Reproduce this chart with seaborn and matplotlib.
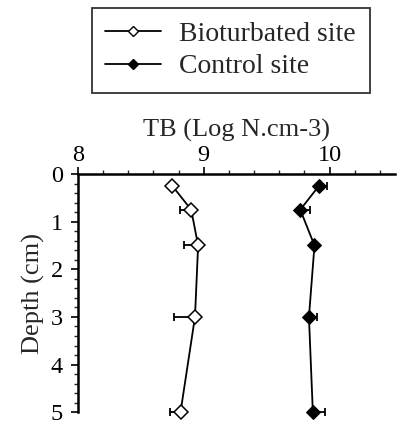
import matplotlib
matplotlib.use("Agg")
import matplotlib.pyplot as plt
import seaborn as sns
import pandas as pd
from matplotlib.ticker import MultipleLocator
from matplotlib.lines import Line2D

# Sediment depth (cm) and total bacteria (log N per cm3)
depth = [0.25, 0.75, 1.5, 3.0, 5.0]
bioturbated = [8.75, 8.90, 8.955, 8.93, 8.815]
bioturbated_err = [0.0, 0.09, 0.11, 0.17, 0.08]
control = [9.915, 9.767, 9.88, 9.836, 9.867]
control_err = [0.065, 0.08, 0.0, 0.065, 0.10]

series_names = ["Bioturbated site", "Control site"]

sns.set_style("ticks")
plt.rcParams["font.family"] = ["Liberation Serif", "DejaVu Serif"]

fig = plt.figure(figsize=(4.01, 4.25), dpi=100)
ax = fig.add_axes([0.1945, 0.03, 0.7905, 0.5606])

df = pd.concat([
    pd.DataFrame({"depth": depth, "tb": bioturbated, "site": series_names[0]}),
    pd.DataFrame({"depth": depth, "tb": control, "site": series_names[1]}),
])

sns.lineplot(data=df[df.site == series_names[0]], x="tb", y="depth", sort=False,
             color="black", lw=1.3, marker="D", markersize=7.5,
             markerfacecolor="white", markeredgecolor="black", markeredgewidth=1.1,
             ax=ax, legend=False, clip_on=False, zorder=3)
sns.lineplot(data=df[df.site == series_names[1]], x="tb", y="depth", sort=False,
             color="black", lw=1.3, marker="D", markersize=7.5,
             markerfacecolor="black", markeredgecolor="black",
             ax=ax, legend=False, clip_on=False, zorder=3)

# one-sided error bars: left for bioturbated, right for control
for vals, xerr in [
    (bioturbated, [bioturbated_err, [0] * len(depth)]),
    (control, [[0] * len(depth), control_err]),
]:
    eb = ax.errorbar(vals, depth, xerr=xerr, fmt="none", ecolor="black",
                     elinewidth=1.3, capsize=3, capthick=1.3, zorder=2)
    for art in eb.lines[1] + eb.lines[2]:
        art.set_clip_on(False)

ax.set_xlim(8, 10.52)
ax.set_ylim(5, 0)
ax.xaxis.set_major_locator(MultipleLocator(1))
ax.xaxis.set_minor_locator(MultipleLocator(0.2))
ax.yaxis.set_major_locator(MultipleLocator(1))
ax.yaxis.set_minor_locator(MultipleLocator(0.2))
ax.xaxis.tick_top()
ax.xaxis.set_label_position("top")
ax.tick_params(axis="both", which="major", direction="out", length=5, width=1.2,
               labelsize=17.5, colors="black")
ax.tick_params(axis="both", which="minor", direction="out", length=3, width=1.0)
ax.tick_params(axis="x", pad=1)
ax.tick_params(axis="y", pad=6)

for s in ["right", "bottom"]:
    ax.spines[s].set_visible(False)
for s in ["left", "top"]:
    ax.spines[s].set_linewidth(1.8)
    ax.spines[s].set_color("black")

ax.set_xlabel("TB (Log N.cm-3)", fontsize=19, labelpad=6)
ax.set_ylabel("Depth (cm)", fontsize=19, labelpad=4)

handles = [
    Line2D([], [], color="black", lw=1.3, marker="D", markersize=5,
           markerfacecolor="white", markeredgecolor="black"),
    Line2D([], [], color="black", lw=1.3, marker="D", markersize=5,
           markerfacecolor="black", markeredgecolor="black"),
]
leg = fig.legend(handles, series_names, loc="upper center", bbox_to_anchor=(0.575, 0.982),
                 borderaxespad=0, fontsize=20, frameon=True, fancybox=False,
                 edgecolor="black", handlelength=2.0, handletextpad=0.65,
                 borderpad=0.5, labelspacing=0.25)
leg.get_frame().set_linewidth(1.3)

fig.savefig("out.png", dpi=100, facecolor="white")
